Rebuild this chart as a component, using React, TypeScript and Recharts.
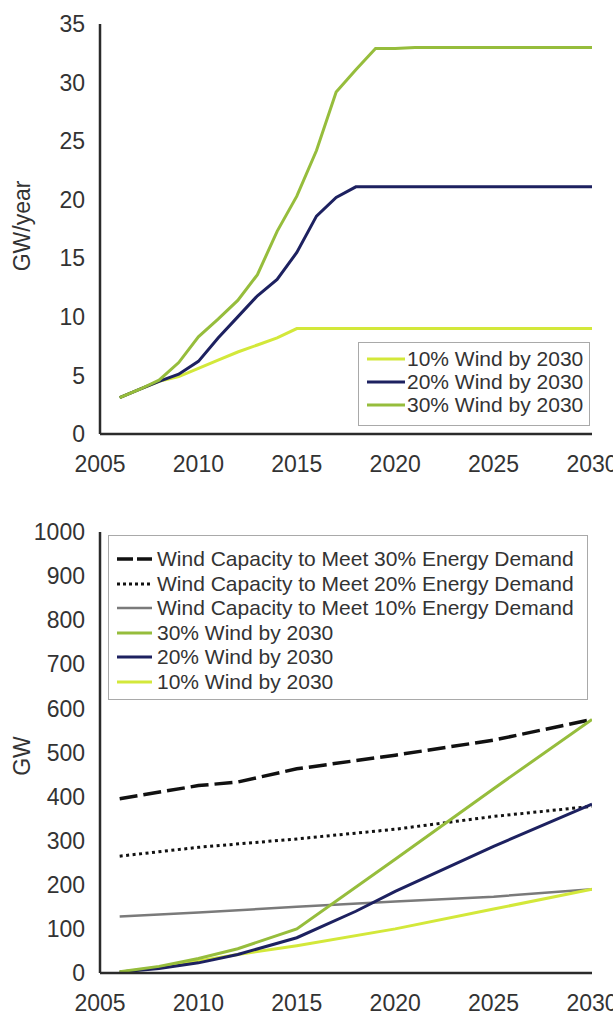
import React from 'react';
import { LineChart, Line, XAxis, YAxis, Legend } from 'recharts';

// ---------- Top chart: annual installations (GW/year) ----------
const topYears = [
  2006, 2007, 2008, 2009, 2010, 2011, 2012, 2013, 2014, 2015, 2016, 2017, 2018,
  2019, 2020, 2021, 2022, 2023, 2024, 2025, 2026, 2027, 2028, 2029, 2030,
];
const wind10Annual = [
  3.1, 3.8, 4.5, 4.9, 5.6, 6.3, 7.0, 7.6, 8.2, 9.0, 9.0, 9.0, 9.0,
  9.0, 9.0, 9.0, 9.0, 9.0, 9.0, 9.0, 9.0, 9.0, 9.0, 9.0, 9.0,
];
const wind20Annual = [
  3.1, 3.8, 4.5, 5.1, 6.2, 8.2, 10.0, 11.8, 13.2, 15.5, 18.6, 20.2, 21.1,
  21.1, 21.1, 21.1, 21.1, 21.1, 21.1, 21.1, 21.1, 21.1, 21.1, 21.1, 21.1,
];
const wind30Annual = [
  3.1, 3.8, 4.6, 6.1, 8.3, 9.8, 11.4, 13.6, 17.3, 20.3, 24.2, 29.2, 31.1,
  32.9, 32.9, 33.0, 33.0, 33.0, 33.0, 33.0, 33.0, 33.0, 33.0, 33.0, 33.0,
];
const topYTicks = [0, 5, 10, 15, 20, 25, 30, 35];
const xTicks = [2005, 2010, 2015, 2020, 2025, 2030];

// ---------- Bottom chart: cumulative capacity (GW) ----------
const demand30Years = [2006, 2010, 2012, 2015, 2020, 2025, 2030];
const demand30Values = [395, 425, 433, 463, 494, 528, 575];
const demand20Years = [2006, 2010, 2015, 2020, 2025, 2030];
const demand20Values = [265, 285, 304, 326, 355, 378];
const demand10Years = [2006, 2010, 2015, 2020, 2025, 2030];
const demand10Values = [128, 137, 150, 162, 173, 190];
const cum30Years = [2006, 2008, 2010, 2012, 2015, 2020, 2025, 2030];
const cum30Values = [3, 15, 33, 55, 100, 258, 418, 575];
const cum20Years = [2006, 2008, 2010, 2012, 2015, 2018, 2020, 2025, 2030];
const cum20Values = [2, 10, 23, 42, 80, 140, 185, 287, 383];
const cum10Years = [2006, 2008, 2010, 2012, 2015, 2020, 2025, 2030];
const cum10Values = [2, 13, 27, 42, 62, 100, 145, 190];
const bottomYTicks = [0, 100, 200, 300, 400, 500, 600, 700, 800, 900, 1000];

const FONT = '"Liberation Sans", Arial, Helvetica, sans-serif';
const TEXT = '#333333';
const AXIS = '#2b2b2b';
const C10 = '#d3e83a';
const C20 = '#1d2160';
const C30 = '#96bd3c';
const CDEMAND = '#111111';
const CGRAY = '#7a7a7a';

const zip = (years: number[], values: number[]) =>
  years.map((year, i) => ({ year, value: values[i] }));

type Item = { name: string; color: string; dash?: string; width: number; legendDash?: string };

const topItems: Item[] = [
  { name: '10% Wind by 2030', color: C10, width: 3 },
  { name: '20% Wind by 2030', color: C20, width: 3 },
  { name: '30% Wind by 2030', color: C30, width: 3 },
];

const bottomItems: Item[] = [
  { name: 'Wind Capacity to Meet 30% Energy Demand', color: CDEMAND, dash: '18 6', width: 3.5, legendDash: '16 4' },
  { name: 'Wind Capacity to Meet 20% Energy Demand', color: CDEMAND, dash: '3 3.5', width: 3, legendDash: '3 3' },
  { name: 'Wind Capacity to Meet 10% Energy Demand', color: CGRAY, width: 2.5 },
  { name: '30% Wind by 2030', color: C30, width: 3 },
  { name: '20% Wind by 2030', color: C20, width: 3 },
  { name: '10% Wind by 2030', color: C10, width: 3 },
];

function makeLegend(items: Item[], rowH: number, padTop: number, padLeft: number, sampleW: number, gap: number) {
  return function LegendContent() {
    return (
      <div
        style={{
          width: '100%',
          height: '100%',
          boxSizing: 'border-box',
          border: '1px solid #a9a9a9',
          paddingTop: padTop,
          paddingLeft: padLeft,
          background: 'rgba(255,255,255,0.9)',
        }}
      >
        {items.map((it) => (
          <div key={it.name} style={{ display: 'flex', alignItems: 'center', height: rowH }}>
            <svg width={sampleW} height={10} style={{ display: 'block' }}>
              <line
                x1={0}
                y1={5}
                x2={sampleW}
                y2={5}
                stroke={it.color}
                strokeWidth={it.width}
                strokeDasharray={it.legendDash || it.dash}
              />
            </svg>
            <span
              style={{
                marginLeft: gap,
                fontFamily: FONT,
                fontSize: 21,
                color: TEXT,
                whiteSpace: 'nowrap',
                lineHeight: `${rowH}px`,
              }}
            >
              {it.name}
            </span>
          </div>
        ))}
      </div>
    );
  };
}

const TopLegend = makeLegend(topItems, 23, 4, 8, 38, 2);
const BottomLegend = makeLegend(bottomItems, 24.5, 11, 8, 35, 5);

const yLabel = (text: string, cx: number, cy: number) => () =>
  (
    <text
      x={cx}
      y={cy}
      transform={`rotate(-90 ${cx} ${cy})`}
      textAnchor="middle"
      dominantBaseline="central"
      fontFamily={FONT}
      fontSize={23}
      fill={TEXT}
    >
      {text}
    </text>
  );

const tickStyle = { fontSize: 23, fill: TEXT, fontFamily: FONT };

export default function App() {
  const topSeries = [
    { item: topItems[0], data: zip(topYears, wind10Annual) },
    { item: topItems[1], data: zip(topYears, wind20Annual) },
    { item: topItems[2], data: zip(topYears, wind30Annual) },
  ];
  const bottomSeries = [
    { item: bottomItems[0], data: zip(demand30Years, demand30Values) },
    { item: bottomItems[1], data: zip(demand20Years, demand20Values) },
    { item: bottomItems[2], data: zip(demand10Years, demand10Values) },
    { item: bottomItems[5], data: zip(cum10Years, cum10Values) },
    { item: bottomItems[4], data: zip(cum20Years, cum20Values) },
    { item: bottomItems[3], data: zip(cum30Years, cum30Values) },
  ];

  return (
    <div
      style={{
        position: 'absolute',
        left: 0,
        top: 0,
        width: 613,
        height: 1011,
        background: '#ffffff',
        overflow: 'hidden',
      }}
    >
      <div style={{ position: 'absolute', left: 0, top: 0 }}>
        <LineChart width={613} height={490} margin={{ top: 24, right: 21, left: 0, bottom: 0 }}>
          <XAxis
            type="number"
            dataKey="year"
            domain={[2005, 2030]}
            ticks={xTicks}
            interval={0}
            height={56}
            tickLine={false}
            tickSize={0}
            tickMargin={22}
            axisLine={{ stroke: AXIS, strokeWidth: 2.5 }}
            tick={tickStyle}
            allowDataOverflow
          />
          <YAxis
            type="number"
            domain={[0, 35]}
            ticks={topYTicks}
            interval={0}
            width={100}
            tickLine={false}
            tickSize={0}
            tickMargin={15}
            axisLine={{ stroke: AXIS, strokeWidth: 2.5 }}
            tick={tickStyle}
            label={{ content: yLabel('GW/year', 22, 226) }}
          />
          <Legend
            layout="vertical"
            align="center"
            verticalAlign="middle"
            width={232}
            height={84}
            wrapperStyle={{ left: 358, top: 342, width: 232, height: 84 }}
            content={<TopLegend />}
          />
          {topSeries.map((s) => (
            <Line
              key={s.item.name}
              data={s.data}
              dataKey="value"
              name={s.item.name}
              type="linear"
              stroke={s.item.color}
              strokeWidth={s.item.width}
              dot={false}
              activeDot={false}
              isAnimationActive={false}
            />
          ))}
        </LineChart>
      </div>

      <div style={{ position: 'absolute', left: 0, top: 500 }}>
        <LineChart width={613} height={511} margin={{ top: 32, right: 21, left: 0, bottom: 0 }}>
          <XAxis
            type="number"
            dataKey="year"
            domain={[2005, 2030]}
            ticks={xTicks}
            interval={0}
            height={38}
            tickLine={false}
            tickSize={0}
            tickMargin={22}
            axisLine={{ stroke: AXIS, strokeWidth: 2.5 }}
            tick={tickStyle}
            allowDataOverflow
          />
          <YAxis
            type="number"
            domain={[0, 1000]}
            ticks={bottomYTicks}
            interval={0}
            width={100}
            tickLine={false}
            tickSize={0}
            tickMargin={15}
            axisLine={{ stroke: AXIS, strokeWidth: 2.5 }}
            tick={tickStyle}
            label={{ content: yLabel('GW', 22, 256) }}
          />
          <Legend
            layout="vertical"
            align="center"
            verticalAlign="middle"
            width={480}
            height={165}
            wrapperStyle={{ left: 108, top: 35, width: 480, height: 165 }}
            content={<BottomLegend />}
          />
          {bottomSeries.map((s) => (
            <Line
              key={s.item.name}
              data={s.data}
              dataKey="value"
              name={s.item.name}
              type="linear"
              stroke={s.item.color}
              strokeWidth={s.item.width}
              strokeDasharray={s.item.dash}
              dot={false}
              activeDot={false}
              isAnimationActive={false}
            />
          ))}
        </LineChart>
      </div>
    </div>
  );
}
